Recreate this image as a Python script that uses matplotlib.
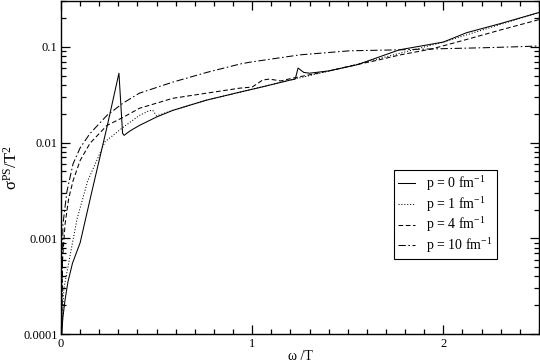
import numpy as np
import matplotlib
matplotlib.use("Agg")
import matplotlib.pyplot as plt
from matplotlib.ticker import LogLocator, MultipleLocator, FixedFormatter, FixedLocator

plt.rcParams['font.family'] = ['Liberation Serif', 'DejaVu Serif']
plt.rcParams['mathtext.fontset'] = 'custom'
plt.rcParams['mathtext.rm'] = 'Liberation Serif'
plt.rcParams['mathtext.it'] = 'Liberation Serif:italic'

# p = 0 fm^-1
x_p0 = [0.003, 0.01, 0.02, 0.036, 0.06, 0.1, 0.16, 0.24, 0.303, 0.322, 0.33, 0.36,
        0.41, 0.5, 0.585, 0.76, 0.935, 1.05, 1.2, 1.225, 1.24, 1.27, 1.3, 1.4,
        1.55, 1.77, 2.0, 2.12, 2.3, 2.5]
y_p0 = [1e-4, 1.5e-4, 2.2e-4, 3.5e-4, 5.5e-4, 9e-4, 3.0e-3, 0.0144, 0.053, 0.0125,
        0.0119, 0.0132, 0.0151, 0.0185, 0.0217, 0.0277, 0.0336, 0.038, 0.045, 0.046,
        0.060, 0.054, 0.053, 0.056, 0.065, 0.093, 0.112, 0.140, 0.175, 0.228]

# p = 1 fm^-1
x_p1 = [0.003, 0.015, 0.036, 0.06, 0.084, 0.14, 0.23, 0.324, 0.41, 0.46, 0.48, 0.5,
        0.585, 0.76, 0.935, 1.2, 1.5, 2.0, 2.5]
y_p1 = [1e-4, 3e-4, 5e-4, 9e-4, 1.6e-3, 4.0e-3, 0.0102, 0.0144, 0.0192, 0.0215,
        0.0217, 0.0190, 0.0217, 0.0277, 0.0336, 0.045, 0.062, 0.112, 0.228]

# p = 4 fm^-1
x_p4 = [0.003, 0.008, 0.021, 0.04, 0.063, 0.1, 0.151, 0.24, 0.324, 0.41, 0.585,
        0.726, 0.935, 1.0, 1.055, 1.09, 1.15, 1.21, 1.3, 1.42, 1.545, 1.65, 1.77,
        1.94, 2.12, 2.3, 2.5]
y_p4 = [1e-4, 6e-4, 1.4e-3, 2.6e-3, 4.0e-3, 6.5e-3, 9.8e-3, 0.0151, 0.0183, 0.0228,
        0.029, 0.032, 0.037, 0.038, 0.045, 0.046, 0.044, 0.047, 0.051, 0.057, 0.065,
        0.072, 0.082, 0.095, 0.119, 0.150, 0.192]

# p = 10 fm^-1
x_p10 = [0.003, 0.01, 0.031, 0.063, 0.1, 0.151, 0.24, 0.324, 0.41, 0.585, 0.762,
         0.935, 0.987, 1.25, 1.51, 1.77, 1.94, 2.2, 2.38, 2.5]
y_p10 = [1e-4, 1.4e-3, 3.1e-3, 6.0e-3, 8.8e-3, 0.0124, 0.0192, 0.0258, 0.0328,
         0.0428, 0.054, 0.066, 0.069, 0.0824, 0.0908, 0.093, 0.095, 0.0976, 0.100,
         0.102]

labels = ['p = 0 fm$^{-1}$', 'p = 1 fm$^{-1}$', 'p = 4 fm$^{-1}$', 'p = 10 fm$^{-1}$']
ytick_vals = [1e-4, 1e-3, 1e-2, 1e-1]
ytick_labels = ['0.0001', '0.001', '0.01', '0.1']
xtick_vals = [0, 1, 2]

fig = plt.figure(figsize=(5.4, 3.64), dpi=100)
ax = fig.add_axes([0.113, 0.082, 0.885, 0.915])

lw = 0.75
ax.plot(x_p0, y_p0, color='k', lw=lw, label=labels[0])
ax.plot(x_p1, y_p1, color='k', lw=lw, dashes=(1, 1.8), label=labels[1])
ax.plot(x_p4, y_p4, color='k', lw=lw, dashes=(4.5, 2.5), label=labels[2])
ax.plot(x_p10, y_p10, color='k', lw=lw, dashes=(7, 2.5, 1.5, 2.5), label=labels[3])

ax.set_yscale('log')
ax.set_xlim(0, 2.5)
ax.set_ylim(1e-4, 0.3)

ax.xaxis.set_major_locator(FixedLocator(xtick_vals))
ax.xaxis.set_minor_locator(MultipleLocator(0.1))
ax.yaxis.set_major_locator(FixedLocator(ytick_vals))
ax.yaxis.set_major_formatter(FixedFormatter(ytick_labels))
ax.yaxis.set_minor_locator(LogLocator(base=10, subs=np.arange(2, 10)))
ax.yaxis.set_minor_formatter(FixedFormatter([]))

ax.tick_params(which='both', direction='in', top=True, right=True, labelsize=9,
               width=0.9, pad=2.5)
ax.tick_params(which='major', length=6.5)
ax.tick_params(which='minor', length=3.3)
for s in ax.spines.values():
    s.set_linewidth(1.0)

ax.set_xlabel('ω /T', fontsize=10, labelpad=0)
ax.set_ylabel('σ$^{\\rm PS}$/T$^2$', fontsize=12, labelpad=2)

leg = ax.legend(loc='upper left', bbox_to_anchor=(0.697, 0.492), fontsize=10,
                frameon=True, fancybox=False, edgecolor='k', framealpha=1,
                handlelength=1.2, handletextpad=0.8, borderpad=0.3,
                labelspacing=0.12, borderaxespad=0)
leg.get_frame().set_linewidth(0.8)

fig.savefig('out.png', dpi=100)
